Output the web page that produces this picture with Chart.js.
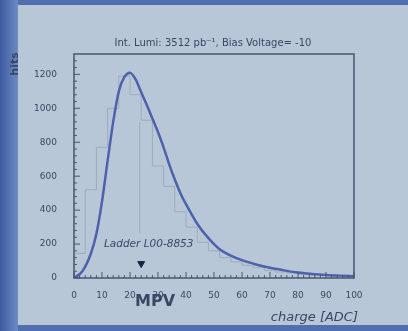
<!DOCTYPE html>
<html>
<head>
<meta charset="utf-8">
<script src="https://cdn.jsdelivr.net/npm/chart.js@4"></script>
<style>
  html, body { margin: 0; padding: 0; background: #4f6fae; }
  #wrap { position: absolute; left: 18px; top: 5px; width: 390px; height: 320px; background: #b8c7d8; }
  #strip { position: absolute; left: 0; top: 0; width: 18px; height: 331px; background: linear-gradient(90deg, #3d5aa0, #6d8cc4); }
  canvas { position: absolute; left: 0; top: 0; }
</style>
</head>
<body>
<div id="strip"></div>
<div id="wrap"></div>
<canvas id="myChart" width="408" height="331"></canvas>
<script>
// histogram, bins of 4 ADC
const binEdges = [0, 4, 8, 12, 16, 20, 24, 28, 32, 36, 40, 44, 48, 52, 56, 60, 64, 68, 72, 76, 80, 84, 88, 92, 96, 100];
const binCounts = [20, 145, 520, 770, 1000, 1190, 1080, 930, 660, 540, 390, 300, 210, 160, 120, 95, 75, 60, 45, 35, 30, 22, 18, 15, 12];

// fitted curve
const fitX = [0, 3, 6, 8, 10, 12, 14, 16, 18, 20, 22, 24, 26, 28, 30, 32, 34, 36, 38, 40, 44, 48, 52, 56, 60, 65, 70, 75, 80, 85, 90, 95, 100];
const fitY = [0, 40, 143, 260, 450, 690, 920, 1100, 1185, 1210, 1170, 1095, 1020, 940, 860, 770, 670, 580, 500, 435, 320, 235, 170, 132, 105, 80, 60, 45, 32, 24, 18, 14, 11];

const mpvValue = 24;
const mpvLine = [260, 920];
const mpvMarkerY = 85;

const xTicks = [0, 10, 20, 30, 40, 50, 60, 70, 80, 90, 100];
const yTicks = [0, 200, 400, 600, 800, 1000, 1200];

const textColor = '#3b4663';
const fontName = '"DejaVu Sans", "Liberation Sans", sans-serif';

const histPoints = binEdges.map((e, i) => ({ x: e, y: i < binCounts.length ? binCounts[i] : binCounts[binCounts.length - 1] }));
const fitPoints = fitX.map((x, i) => ({ x: x, y: fitY[i] }));

// frame, minor ticks and free texts, ROOT style
const rootStyle = {
    id: 'rootStyle',
    afterDraw(chart) {
        const { ctx, chartArea: a, scales } = chart;
        const xs = scales.x, ys = scales.y;
        ctx.save();
        ctx.strokeStyle = '#4a556e';
        ctx.lineWidth = 1.5;
        ctx.strokeRect(a.left, a.top, a.right - a.left, a.bottom - a.top);

        ctx.lineWidth = 1;
        ctx.beginPath();
        for (let v = 0; v <= 100; v += 2) {
            const px = xs.getPixelForValue(v);
            const len = v % 10 === 0 ? 6 : 3;
            ctx.moveTo(px, a.bottom);
            ctx.lineTo(px, a.bottom - len);
        }
        for (let v = 0; v <= 1300; v += 40) {
            const py = ys.getPixelForValue(v);
            const len = v % 200 === 0 ? 6 : 3;
            ctx.moveTo(a.left, py);
            ctx.lineTo(a.left + len, py);
        }
        ctx.stroke();

        ctx.fillStyle = textColor;
        ctx.textAlign = 'center';
        ctx.textBaseline = 'middle';
        ctx.font = '10px ' + fontName;
        ctx.fillText('Int. Lumi: 3512 pb\u207B\u00B9, Bias Voltage= -10', 213, 43);

        ctx.font = 'bold 16px ' + fontName;
        ctx.fillText('MPV', 155, 302);

        ctx.font = 'oblique 13px ' + fontName;
        ctx.textAlign = 'right';
        ctx.fillText('charge [ADC]', 358, 318);

        ctx.textAlign = 'left';
        ctx.font = 'oblique 10.5px ' + fontName;
        ctx.fillText('Ladder L00-8853', 104, 244);

        ctx.translate(15, 64);
        ctx.rotate(-Math.PI / 2);
        ctx.textAlign = 'center';
        ctx.font = 'bold 11px ' + fontName;
        ctx.fillText('hits', 0, 0);
        ctx.restore();
    }
};

const ctx = document.getElementById('myChart').getContext('2d');
new Chart(ctx, {
    type: 'scatter',
    data: {
        datasets: [
            {
                label: 'fit',
                type: 'line',
                data: fitPoints,
                borderColor: '#4c62aa',
                borderWidth: 2.5,
                pointRadius: 0,
                cubicInterpolationMode: 'monotone',
                fill: false,
                order: 1
            },
            {
                label: 'data',
                type: 'line',
                data: histPoints,
                stepped: 'after',
                borderColor: '#9dabbf',
                borderWidth: 1,
                pointRadius: 0,
                fill: false,
                order: 2
            },
            {
                label: 'mpv line',
                type: 'line',
                data: mpvLine.map(v => ({ x: mpvValue - 0.5, y: v })),
                borderColor: '#9dabbf',
                borderWidth: 1,
                pointRadius: 0,
                order: 3
            },
            {
                label: 'mpv',
                data: [{ x: mpvValue, y: mpvMarkerY }],
                pointStyle: 'triangle',
                rotation: 180,
                pointRadius: 4,
                backgroundColor: '#1c2240',
                borderColor: '#1c2240',
                order: 0
            }
        ]
    },
    options: {
        responsive: false,
        animation: false,
        layout: { padding: { left: 0, top: 54, right: 54, bottom: 0 } },
        plugins: {
            legend: false,
            tooltip: { enabled: false }
        },
        scales: {
            x: {
                type: 'linear',
                min: 0,
                max: 100,
                afterBuildTicks: s => { s.ticks = xTicks.map(v => ({ value: v })); },
                afterFit: s => { s.height = 53; },
                grid: { display: false },
                border: { display: false },
                ticks: {
                    color: textColor, font: { size: 9, family: fontName }, padding: 4, maxRotation: 0,
                    callback: v => String(v)
                }
            },
            y: {
                type: 'linear',
                min: 0,
                max: 1320,
                afterBuildTicks: s => { s.ticks = yTicks.map(v => ({ value: v })); },
                afterFit: s => { s.width = 74; },
                grid: { display: false },
                border: { display: false },
                ticks: {
                    color: textColor, font: { size: 9, family: fontName }, padding: 9,
                    callback: v => String(v)
                }
            }
        }
    },
    plugins: [rootStyle]
});
</script>
</body>
</html>
